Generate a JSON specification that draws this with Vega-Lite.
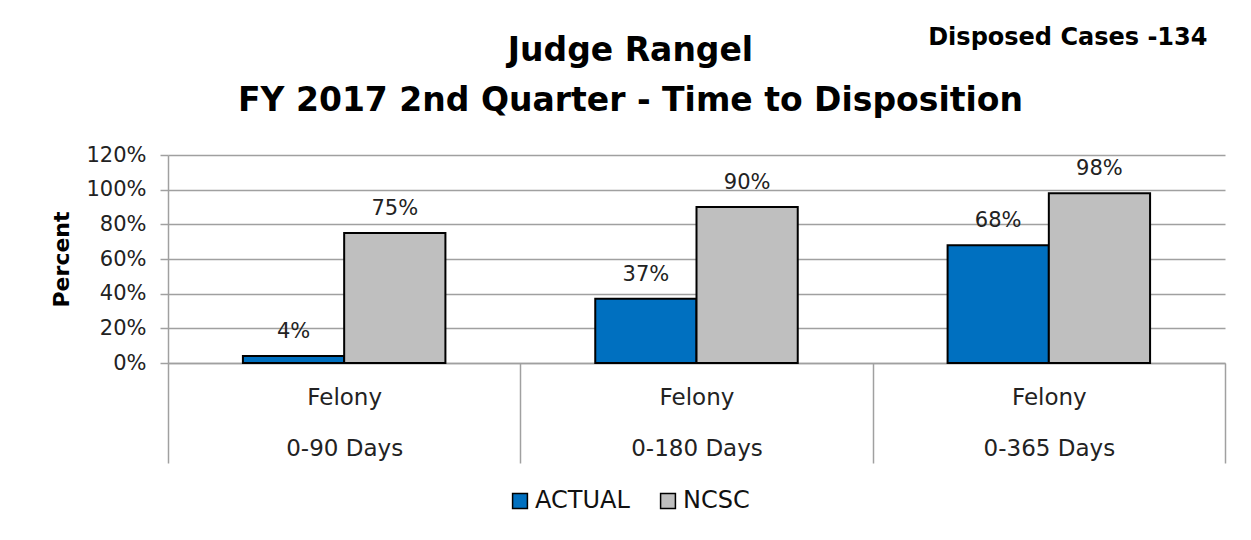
{
  "$schema": "https://vega.github.io/schema/vega-lite/v6.json",
  "autosize": "none",
  "width": 1057,
  "height": 208,
  "padding": {"left": 168, "top": 155, "right": 26, "bottom": 177},
  "background": "white",
  "title": {
    "text": ["Judge Rangel", "FY 2017 2nd Quarter - Time to Disposition"],
    "font": "DejaVu Sans",
    "fontSize": 33,
    "fontWeight": "bold",
    "color": "#000000",
    "lineHeight": 50,
    "anchor": "middle",
    "dx": -66,
    "offset": -92
  },
  "config": {
    "view": {"stroke": null},
    "font": "DejaVu Sans"
  },
  "datasets": {
    "bars": [
      {"cat": "0-90 Days", "series": "ACTUAL", "value": 0.04},
      {"cat": "0-90 Days", "series": "NCSC", "value": 0.75},
      {"cat": "0-180 Days", "series": "ACTUAL", "value": 0.37},
      {"cat": "0-180 Days", "series": "NCSC", "value": 0.90},
      {"cat": "0-365 Days", "series": "ACTUAL", "value": 0.68},
      {"cat": "0-365 Days", "series": "NCSC", "value": 0.98}
    ],
    "note": [{"note": "Disposed Cases -134", "cat": "0-365 Days", "value": 1.2}]
  },
  "encoding": {
    "x": {
      "field": "cat",
      "type": "nominal",
      "sort": ["0-90 Days", "0-180 Days", "0-365 Days"],
      "scale": {"paddingInner": 0, "paddingOuter": 0},
      "axis": {
        "title": null,
        "labelAngle": 0,
        "labelExpr": "datum.label ? ['Felony', datum.label] : ''",
        "labelLineHeight": 51,
        "labelFontSize": 23,
        "labelColor": "#222222",
        "labelBaseline": "top",
        "labelPadding": -77,
        "tickBand": "extent",
        "tickSize": 100,
        "tickColor": "#a0a0a0",
        "tickWidth": 1.5,
        "domainColor": "#a0a0a0",
        "domainWidth": 1.5
      }
    },
    "y": {
      "field": "value",
      "type": "quantitative",
      "scale": {"domain": [0, 1.2]},
      "axis": {
        "title": "Percent",
        "titleFontSize": 22,
        "titleFontWeight": "bold",
        "titleColor": "#000000",
        "titleX": -100,
        "titleY": 104,
        "titleAngle": -90,
        "titleAlign": "center",
        "titleBaseline": "alphabetic",
        "values": [0, 0.2, 0.4, 0.6, 0.8, 1.0, 1.2],
        "format": ".0%",
        "labelOverlap": false,
        "labelFontSize": 21,
        "labelColor": "#222222",
        "labelPadding": 14,
        "tickSize": 8,
        "tickColor": "#a0a0a0",
        "tickWidth": 1.5,
        "grid": true,
        "gridColor": "#a0a0a0",
        "gridWidth": 1.5,
        "domainColor": "#a0a0a0",
        "domainWidth": 1.5
      }
    }
  },
  "layer": [
    {
      "data": {"name": "bars"},
      "mark": {"type": "bar", "stroke": "#000000", "strokeWidth": 2},
      "encoding": {
        "xOffset": {
          "field": "series",
          "type": "nominal",
          "scale": {"paddingInner": 0, "paddingOuter": 0.74}
        },
        "color": {
          "field": "series",
          "type": "nominal",
          "scale": {"domain": ["ACTUAL", "NCSC"], "range": ["#0070C0", "#BFBFBF"]},
          "legend": {
            "title": null,
            "orient": "none",
            "direction": "horizontal",
            "legendX": 340,
            "legendY": 334,
            "symbolType": "square",
            "symbolSize": 220,
            "symbolStrokeColor": "#000000",
            "symbolStrokeWidth": 1.5,
            "symbolOpacity": 1,
            "labelFontSize": 24,
            "labelColor": "#111111",
            "labelOffset": 3,
            "columnPadding": 26
          }
        }
      }
    },
    {
      "data": {"name": "bars"},
      "mark": {"type": "text", "fontSize": 21, "color": "#222222", "baseline": "alphabetic", "dy": -18},
      "encoding": {
        "xOffset": {"field": "series", "type": "nominal"},
        "text": {"field": "value", "type": "quantitative", "format": ".0%"}
      }
    },
    {
      "data": {"name": "note"},
      "mark": {"type": "text", "fontSize": 24, "fontWeight": "bold", "color": "#000000", "baseline": "middle", "dy": -117, "dx": 19, "clip": false},
      "encoding": {
        "text": {"field": "note", "type": "nominal"}
      }
    }
  ]
}
